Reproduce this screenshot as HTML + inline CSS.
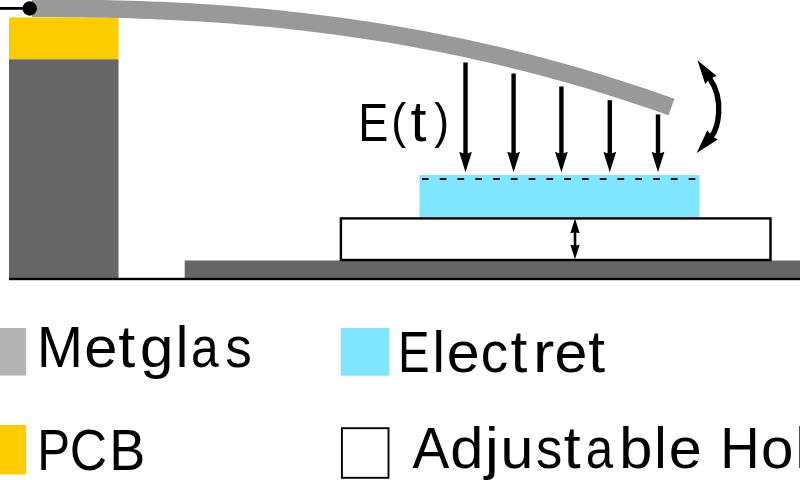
<!DOCTYPE html>
<html><head><meta charset="utf-8"><style>
html,body{margin:0;padding:0;background:#fff;width:800px;height:480px;overflow:hidden}
svg{display:block;will-change:transform}
text{font-family:"Liberation Sans",sans-serif;fill:#000}
</style></head><body>
<svg width="800" height="480" viewBox="0 0 800 480">
<rect x="0" y="0" width="800" height="480" fill="#fff"/>
<rect x="9" y="17.4" width="109.5" height="41.9" fill="#ffcc00"/>
<rect x="9" y="59.3" width="109.5" height="219" fill="#666666"/>
<rect x="184.7" y="260.5" width="620" height="18" fill="#666666"/>
<rect x="9" y="277.8" width="800" height="2.4" fill="#000"/>
<rect x="340.9" y="218.4" width="429.6" height="41.6" fill="#fff" stroke="#000" stroke-width="2.4"/>
<rect x="419.5" y="175" width="280" height="42" fill="#80e5ff"/>
<line x1="422" y1="179.0" x2="700" y2="179.0" stroke="#000" stroke-width="2.2" stroke-dasharray="6.6 11.18"/>
<path d="M32.00 8.22 L40.02 8.22 L50.05 8.25 L60.07 8.30 L70.09 8.37 L80.12 8.48 L90.14 8.62 L100.16 8.79 L110.19 9.00 L120.21 9.25 L130.23 9.54 L140.26 9.87 L150.28 10.24 L160.30 10.65 L170.33 11.11 L180.35 11.61 L190.38 12.16 L200.40 12.75 L210.42 13.40 L220.45 14.09 L230.47 14.84 L240.49 15.63 L250.52 16.48 L260.54 17.38 L270.56 18.33 L280.59 19.34 L290.61 20.40 L300.63 21.51 L310.66 22.69 L320.68 23.92 L330.70 25.20 L340.73 26.55 L350.75 27.95 L360.77 29.42 L370.80 30.94 L380.82 32.52 L390.84 34.17 L400.87 35.87 L410.89 37.64 L420.91 39.47 L430.94 41.37 L440.96 43.33 L450.98 45.35 L461.01 47.44 L471.03 49.59 L481.05 51.81 L491.08 54.09 L501.10 56.44 L511.12 58.86 L521.15 61.35 L531.17 63.90 L541.20 66.52 L551.22 69.21 L561.24 71.98 L571.27 74.81 L581.29 77.71 L591.31 80.68 L601.34 83.72 L611.36 86.84 L621.38 90.02 L631.41 93.28 L641.43 96.61 L651.45 100.02 L661.48 103.49 L671.50 107.05" fill="none" stroke="#999999" stroke-width="17.6"/>
<line x1="0" y1="8.4" x2="29" y2="8.4" stroke="#000" stroke-width="2.8"/>
<circle cx="29.7" cy="8.5" r="7.2" fill="#000"/>
<line x1="465.5" y1="62.5" x2="465.5" y2="160" stroke="#000" stroke-width="4.4"/>
<path d="M465.50 172.30 L459.10 151.70 Q465.50 154.70 471.90 151.70 Z" fill="#000"/>
<line x1="513.6" y1="73.5" x2="513.6" y2="160" stroke="#000" stroke-width="4.4"/>
<path d="M513.60 172.30 L507.20 151.70 Q513.60 154.70 520.00 151.70 Z" fill="#000"/>
<line x1="561.4" y1="86.5" x2="561.4" y2="160" stroke="#000" stroke-width="4.4"/>
<path d="M561.40 172.30 L555.00 151.70 Q561.40 154.70 567.80 151.70 Z" fill="#000"/>
<line x1="609.8" y1="100.2" x2="609.8" y2="160" stroke="#000" stroke-width="4.4"/>
<path d="M609.80 172.30 L603.40 151.70 Q609.80 154.70 616.20 151.70 Z" fill="#000"/>
<line x1="658.0" y1="114.4" x2="658.0" y2="160" stroke="#000" stroke-width="4.4"/>
<path d="M658.00 172.30 L651.60 151.70 Q658.00 154.70 664.40 151.70 Z" fill="#000"/>
<line x1="575" y1="228" x2="575" y2="250" stroke="#000" stroke-width="2.6"/>
<path d="M575.00 218.60 L579.70 233.30 Q575.00 231.50 570.30 233.30 Z" fill="#000"/>
<path d="M575.00 259.20 L570.30 244.50 Q575.00 246.30 579.70 244.50 Z" fill="#000"/>
<path d="M709.70 78.20 C725.15 100.94 717.73 129.13 711.10 136.60" fill="none" stroke="#000" stroke-width="5.4"/>
<path d="M697.45 60.17 L716.68 76.11 Q709.70 78.20 705.19 83.93 Z" fill="#000"/>
<path d="M696.65 152.88 L707.37 130.35 Q711.10 136.60 717.75 139.56 Z" fill="#000"/>
<text transform="translate(358.20 141.00) scale(0.8293 1.0000)" font-size="54.40">E</text>
<text transform="translate(391.31 137.56) scale(0.8200 0.9148)" font-size="54.40">(</text>
<text transform="translate(410.52 141.00) scale(1.0600 1.0393)" font-size="54.40">t</text>
<text transform="translate(434.23 137.56) scale(0.8200 0.9148)" font-size="54.40">)</text>
<text transform="translate(36.98 367.00) scale(0.9541 1.0000)" font-size="57.72">M</text>
<text transform="translate(84.25 367.00) scale(1.0336 1.0000)" font-size="57.72">e</text>
<text transform="translate(118.27 367.00) scale(1.0600 1.0393)" font-size="57.72">t</text>
<text transform="translate(139.89 367.00) scale(1.0401 1.0000)" font-size="57.72">g</text>
<text transform="translate(175.83 367.00) scale(0.9782 1.0000)" font-size="57.72">l</text>
<text transform="translate(190.98 367.00) scale(0.8605 1.0000)" font-size="57.72">a</text>
<text transform="translate(225.13 367.00) scale(0.9173 1.0000)" font-size="57.72">s</text>
<text transform="translate(398.12 372.20) scale(0.8293 1.0000)" font-size="57.12">E</text>
<text transform="translate(432.56 372.20) scale(0.9782 1.0000)" font-size="57.12">l</text>
<text transform="translate(446.87 372.20) scale(1.0336 1.0000)" font-size="57.12">e</text>
<text transform="translate(480.68 372.20) scale(0.9602 1.0000)" font-size="57.12">c</text>
<text transform="translate(510.59 372.20) scale(1.0600 1.0393)" font-size="57.12">t</text>
<text transform="translate(532.95 372.20) scale(1.1200 1.0000)" font-size="57.12">r</text>
<text transform="translate(554.46 372.20) scale(1.0336 1.0000)" font-size="57.12">e</text>
<text transform="translate(588.13 372.20) scale(1.0600 1.0393)" font-size="57.12">t</text>
<text transform="translate(37.22 469.50) scale(0.8463 1.0000)" font-size="58.19">P</text>
<text transform="translate(69.87 469.50) scale(0.8883 1.0000)" font-size="58.19">C</text>
<text transform="translate(109.27 469.50) scale(0.9297 1.0000)" font-size="58.19">B</text>
<text transform="translate(412.59 468.20) scale(0.9640 1.0000)" font-size="57.28">A</text>
<text transform="translate(450.29 468.20) scale(1.0401 1.0000)" font-size="57.28">d</text>
<text transform="translate(485.08 468.20) scale(1.0795 1.0000)" font-size="57.28">j</text>
<text transform="translate(500.60 468.20) scale(1.0317 1.0000)" font-size="57.28">u</text>
<text transform="translate(536.03 468.20) scale(0.9173 1.0000)" font-size="57.28">s</text>
<text transform="translate(563.63 468.20) scale(1.0600 1.0393)" font-size="57.28">t</text>
<text transform="translate(585.77 468.20) scale(0.8605 1.0000)" font-size="57.28">a</text>
<text transform="translate(619.29 468.20) scale(1.0411 1.0000)" font-size="57.28">b</text>
<text transform="translate(654.34 468.20) scale(0.9782 1.0000)" font-size="57.28">l</text>
<text transform="translate(668.68 468.20) scale(1.0336 1.0000)" font-size="57.28">e</text>
<text transform="translate(720.23 468.20) scale(0.9519 1.0000)" font-size="57.28">H</text>
<text transform="translate(761.11 468.20) scale(1.0173 1.0000)" font-size="57.28">o</text>
<text transform="translate(795.46 468.20) scale(0.9782 1.0000)" font-size="57.28">l</text>
<text transform="translate(809.82 468.20) scale(1.0401 1.0000)" font-size="57.28">d</text>
<text transform="translate(844.60 468.20) scale(1.0336 1.0000)" font-size="57.28">e</text>
<text transform="translate(879.28 468.20) scale(1.1200 1.0000)" font-size="57.28">r</text>

<rect x="0" y="328" width="26.2" height="47.5" fill="#b3b3b3"/>
<rect x="340.8" y="328" width="48.4" height="47.7" fill="#80e5ff"/>
<rect x="0" y="425" width="26.2" height="49.5" fill="#ffcc00"/>
<rect x="341.9" y="428.2" width="46.6" height="49.6" fill="#fff" stroke="#000" stroke-width="1.9"/>
</svg>
</body></html>
